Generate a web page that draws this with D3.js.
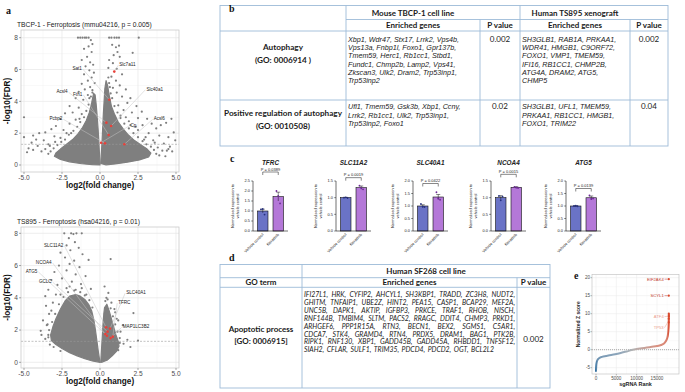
<!DOCTYPE html>
<html><head><meta charset="utf-8">
<script src="https://cdn.jsdelivr.net/npm/d3@7"></script>
<style>body{margin:0;background:#fff}svg{display:block}</style>
</head><body>
<svg id="fig" width="685" height="392"></svg>
<script>
// ================= DATA =================
// Panel a – volcano plots
const v1Title = "TBCP-1 - Ferroptosis (mmu04216, p = 0.005)";
const v2Title = "TS895 - Ferroptosis (hsa04216, p = 0.01)";
const xTicks = [-5, -2.5, 0, 2.5, 5];
const yTicks = [0, 2, 4, 6, 8];
// dense cloud outlines [log2FC, -log10FDR]
const v1LeftCloud = [[0,0.1],[-0.04,0.8],[-0.08,1.5],[-0.12,2.2],[-0.18,3.0],[-0.25,3.8],[-0.32,4.4],[-0.42,4.5],[-0.55,3.9],[-0.7,3.3],[-0.9,2.8],[-1.15,2.35],[-1.45,1.95],[-1.8,1.6],[-2.2,1.3],[-2.6,1.0],[-2.9,0.75],[-3.0,0.55],[-2.6,0.35],[-2.0,0.2],[-1.2,0.08],[-0.5,0.02],[0,0]];
const v1RightCloud = [[0.05,0.1],[0.1,0.9],[0.14,1.6],[0.18,2.4],[0.22,3.2],[0.27,4.0],[0.32,4.8],[0.4,5.3],[0.5,5.0],[0.6,4.4],[0.75,3.7],[0.95,3.2],[1.2,2.7],[1.5,2.3],[1.85,1.9],[2.25,1.55],[2.7,1.25],[3.1,1.0],[3.35,0.75],[3.2,0.5],[2.6,0.32],[1.8,0.18],[1.0,0.07],[0.4,0.01]];
const v1Points = [[-1.45,8],[-1.3,8],[-1.15,8],[-1.0,8],[-0.9,8],[-0.75,8],[-0.6,7.85],[-0.5,7.6],[-0.75,7.45],[-1.05,7.3],[-0.55,7.1],[-0.85,6.8],[-1.2,6.6],[-0.65,6.45],[-0.95,6.2],[-0.45,6.3],[-0.7,5.95],[-1.05,5.7],[-0.4,5.8],[-0.55,5.5],[-0.8,5.3],[-1.2,5.1],[-0.35,5.15],[-0.65,4.9],[-1.0,4.75],[-1.4,4.6],[-0.5,4.55],[-0.8,4.4],[-1.6,4.2],[-1.1,4.1],[-2.0,3.7],[-1.4,3.6],[-1.8,3.3],[-2.3,3.25],[-1.2,3.2],[-2.6,2.9],[-1.6,2.85],[-2.0,2.6],[-2.9,2.45],[-3.2,2.25],[-2.4,2.2],[-3.6,2.05],[-4.0,2.0],[-4.4,1.85],[-3.0,1.8],[-4.2,1.6],[-3.7,1.55],[-4.5,1.4],[-4.1,1.2],[-3.4,1.3],[-4.7,1.05],[-5.0,3.0],[-5.0,1.75],[-2.6,1.7],[-1.9,2.0],[-4.4,0.95],[-4.8,0.8],
 [0.6,8],[0.75,8],[0.95,8],[1.1,8],[1.25,8],[2.55,8],[0.8,7.55],[1.05,7.4],[1.25,7.5],[1.15,7.1],[0.9,6.9],[2.15,7.05],[0.6,6.6],[1.3,6.8],[0.85,6.4],[1.1,6.05],[0.55,6.1],[1.45,5.7],[0.75,5.55],[1.05,5.3],[0.6,5.15],[1.3,5.0],[0.85,4.85],[1.7,4.75],[1.1,4.55],[0.7,4.5],[1.45,4.3],[2.0,4.2],[1.8,3.9],[2.4,3.7],[1.2,3.75],[1.55,3.45],[2.1,3.3],[2.75,3.35],[1.35,3.1],[2.5,2.95],[3.1,2.9],[1.9,2.75],[3.4,2.6],[2.8,2.5],[4.0,2.5],[4.35,2.65],[4.7,2.9],[3.7,2.3],[2.5,2.2],[3.2,2.0],[4.85,2.05],[3.9,1.85],[4.5,1.75],[2.9,1.6],[3.5,1.55],[4.95,1.55],[4.2,1.35],[3.8,1.1],[4.6,1.15],[4.75,0.85],[4.4,0.9],
 [-0.5,4.7],[-0.6,4.3],[-0.75,3.8],[-0.9,3.4],[-1.05,3.0],[-1.3,2.7],[-1.5,2.4],[-1.75,2.15],[-2.05,1.9],[-2.3,1.6],[-2.55,1.45],[-2.8,1.25],[-3.05,1.05],[-3.25,0.85],[-3.4,0.7],[-3.6,1.0],[-3.85,0.85],[-3.3,1.2],[-2.95,1.45],[-2.2,2.0],[-1.35,2.9],[-0.7,4.2],
 [0.55,5.5],[0.65,4.9],[0.8,4.2],[0.95,3.7],[1.15,3.3],[1.35,2.95],[1.6,2.6],[1.9,2.3],[2.2,2.0],[2.5,1.75],[2.8,1.5],[3.05,1.3],[3.35,1.15],[3.55,0.95],[3.7,0.7],[3.9,0.6],[4.1,0.9],[3.6,1.4],[3.0,1.75],[2.35,2.4],[1.7,3.0],[4.3,0.55],[4.5,1.0],[2.0,2.5]];
const v1Hits = [[0.94,5.87],[0.61,4.1],[0.42,2.66],[0.73,2.45],[0.57,1.89],[0.33,1.36],[1.6,1.3],[0.07,1.4]];
const v1Labels = ["Sat1","Slc7a11","Acsl4","Fth1","Slc40a1","Pcbp2","Cp","Acsl6"];
const v1LabelPos = [[-1.5,6.05],[1.8,6.3],[-2.5,4.6],[-1.47,4.45],[3.6,4.76],[-2.9,2.9],[2.2,2.5],[3.9,2.9]];
const v1LabelHit = [1,0,2,4,3,5,7,6];

const v2LeftCloud = [[0,0],[-0.1,0.6],[-0.2,1.3],[-0.3,2.0],[-0.4,2.6],[-0.55,3.2],[-0.75,3.6],[-1.0,3.9],[-1.3,4.1],[-1.6,4.2],[-2.0,4.1],[-2.3,3.8],[-2.6,3.3],[-2.9,2.7],[-3.1,2.2],[-3.25,1.7],[-3.2,1.35],[-2.9,1.1],[-2.5,0.85],[-2.0,0.6],[-1.5,0.4],[-1.0,0.22],[-0.5,0.08],[0,0]];
const v2RightCloud = [[0.05,0],[0.1,0.8],[0.15,1.6],[0.2,2.4],[0.25,3.0],[0.3,3.4],[0.45,3.6],[0.6,3.2],[0.75,2.7],[0.9,2.2],[1.05,1.7],[1.2,1.3],[1.25,1.0],[1.1,0.7],[0.8,0.4],[0.5,0.15],[0.2,0.03]];
const v2Points = [[-1.9,8],[-1.75,7.95],[-1.55,8],[-1.2,8],[-2.35,8],[-2.05,7.7],[-1.65,7.45],[-2.2,7.25],[-1.4,7.1],[-1.95,6.95],[-2.6,6.8],[-1.15,6.7],[-2.3,6.5],[-1.7,6.3],[-0.75,6.35],[-2.0,6.1],[-2.7,6.0],[-1.35,5.9],[-3.0,5.6],[-2.2,5.7],[-1.6,5.45],[-0.95,5.35],[-2.5,5.2],[-3.2,5.1],[-1.85,5.0],[-2.8,4.8],[-1.25,4.85],[-2.2,4.6],[-3.4,4.5],[-0.6,4.55],[-1.6,4.5],[-3.6,4.1],[-2.9,4.2],[-0.9,4.2],[-3.1,3.7],[-3.55,3.5],[-3.35,3.0],[-3.75,2.6],[-3.5,2.3],[-3.9,1.95],[-3.85,1.7],[-3.4,1.55],[-3.3,1.1],[-2.7,1.1],[-3.6,1.45],
 [0.7,6.4],[0.3,4.7],[0.55,4.3],[0.42,4.0],[0.75,3.7],[1.0,3.1],[2.2,3.05],[1.2,2.6],[1.5,2.3],[1.35,1.9],[1.8,1.4],[2.5,1.35],[1.55,1.15],[2.0,0.95],[1.3,1.5],
 [-0.5,3.4],[-0.7,3.85],[-1.0,4.15],[-1.3,4.35],[-1.7,4.45],[-2.1,4.35],[-2.4,4.05],[-2.7,3.6],[-2.95,3.0],[-3.15,2.5],[-3.35,2.0],[-3.4,1.7],[-3.05,0.95],[-2.6,0.7],[-1.2,4.6],[-2.0,4.7],[-2.6,4.2],[-3.2,3.2],[-3.45,2.35],
 [0.35,3.8],[0.5,3.9],[0.7,3.35],[0.85,2.85],[1.0,2.35],[1.15,1.9],[1.3,1.2],[1.2,0.75],[0.95,3.3],[1.1,2.7]];
const v2Hits = [[0.4,2.17],[0.46,1.65],[0.66,2.09],[0.84,1.59],[0.5,1.9],[0.35,1.75],[0.7,1.5]];
const v2Labels = ["SLC11A2","NCOA4","ATG5","GCLC","SLC40A1","TFRC","MAP1LC3B2"];
const v2LabelPos = [[-3.05,7.27],[-3.7,6.19],[-4.5,5.63],[-3.6,5.0],[2.37,4.32],[1.6,3.7],[2.37,2.2]];
const v2LabelHit = [0,5,1,4,2,3,6];

// Panel b – enrichment table
const bGroups = ["Mouse TBCP-1 cell line", "Human TS895 xenograft"];
const bColHeads = ["Enriched genes", "P value", "Enriched genes", "P value"];
const bTerms = [["Autophagy", "(GO: 0006914 )"], ["Positive regulation of autophagy", "(GO: 0010508)"]];
const bMouseGenes = [
  ["Xbp1, Wdr47, Stx17, Lrrk2, Vps4b,", "Vps13a, Fnbp1l, Foxo1, Gpr137b,", "Tmem59, Herc1, Rb1cc1, Stbd1,", "Fundc1, Chmp2b, Lamp2, Vps41,", "Zkscan3, Ulk2, Dram2, Trp53inp1,", "Trp53inp2"],
  ["Ufl1, Tmem59, Gsk3b, Xbp1, Ccny,", "Lrrk2, Rb1cc1, Ulk2, Trp53inp1,", "Trp53inp2, Foxo1"]];
const bMouseP = ["0.002", "0.02"];
const bHumanGenes = [
  ["SH3GLB1, RAB1A, PRKAA1,", "WDR41, HMGB1, C9ORF72,", "FOXO1, VMP1, TMEM59,", "IFI16, RB1CC1, CHMP2B,", "ATG4A, DRAM2, ATG5,", "CHMP5"],
  ["SH3GLB1, UFL1, TMEM59,", "PRKAA1, RB1CC1, HMGB1,", "FOXO1, TRIM22"]];
const bHumanP = ["0.002", "0.04"];

// Panel c – qPCR bars
const cGenes = ["TFRC", "SLC11A2", "SLC40A1", "NCOA4", "ATG5"];
const cYMax = [2.5, 1.5, 2.0, 1.5, 2.0];
const cVehicleMean = [1.0, 1.0, 1.0, 1.0, 1.0];
const cVehicleSem = [0.09, 0.01, 0.05, 0.06, 0.01];
const cNeratinibMean = [1.72, 1.3, 1.36, 1.31, 1.33];
const cNeratinibSem = [0.22, 0.05, 0.1, 0.02, 0.07];
const cVehiclePts = [[1.08, 1.1, 0.82], [1.0, 1.01, 0.99], [1.08, 0.97, 0.96], [1.05, 0.92, 1.03], [1.0, 1.01, 0.99]];
const cNeratinibPts = [[2.0, 1.75, 1.38], [1.36, 1.29, 1.25], [1.55, 1.3, 1.25], [1.32, 1.3, 1.29], [1.42, 1.28, 1.3]];
const cBracket = [2.95, 1.6, 1.9, 1.7, 1.7];
const cPLabels = ["P = 0.0389", "P = 0.0019", "P = 0.0422", "P = 0.0015", "P = 0.0139"];
const cGroups = ["Vehicle control", "Neratinib"];
const cYTitle = ["Normalised expression to", "vehicle control"];

// Panel d – apoptosis table
const dGroup = "Human SF268 cell line";
const dHeads = ["GO term", "Enriched genes", "P value"];
const dTerm = ["Apoptotic process", "[GO: 0006915]"];
const dGenes = [
  "IFI27L1, HRK, CYFIP2, AHCYL1, SH3KBP1, TRADD, ZC3H8, NUDT2,",
  "GHITM, TNFAIP1, UBE2Z, HINT2, PEA15, CASP1, BCAP29, MEF2A,",
  "UNC5B, DAPK1, AKTIP, IGFBP3, PRKCE, TRAF1, RHOB, NISCH,",
  "RNF144B, TMBIM4, SLTM, PACS2, RRAGC, DDIT4, CHMP3, PRKD1,",
  "ARHGEF6, PPP1R15A, RTN3, BECN1, BEX2, SGMS1, C5AR1,",
  "CDCA7, STK4, GRAMD4, RTN4, PRDX5, DRAM1, BAG1, PTK2B,",
  "RIPK1, RNF130, XBP1, GADD45B, GADD45A, RHBDD1, TNFSF12,",
  "SIAH2, CFLAR, SULF1, TRIM35, PDCD4, PDCD2, OGT, BCL2L2"];
const dP = "0.002";

// Panel e – sgRNA rank plot
const eRank = [0, 60, 200, 450, 900, 1500, 2500, 3750, 5000, 6250, 7500, 8750, 10000, 11250, 12500, 13750, 15000, 16000, 16700, 17200, 17500, 17700, 17800, 17870, 17900];
const eZ = [-5.9, -4.6, -3.4, -2.7, -2.25, -2.0, -1.75, -1.45, -1.2, -0.85, -0.5, -0.1, 0.2, 0.4, 0.6, 0.8, 1.0, 1.3, 1.7, 2.4, 3.2, 4.3, 5.6, 7.4, 9.8];
const eXTicks = [0, 5000, 10000, 15000];
const eYTicks = [-5, 0, 5, 10, 15, 20];
const eHitRank = [17900, 17900, 17900, 17895, 17890, 17880];
const eHitZ = [19.6, 15.0, 10.0, 9.3, 8.6, 7.6];
const eLabels = ["EIF2AK4", "SCYL1", "ATF4", "TP53"];
const eLabelZ = [19.6, 15.0, 9.2, 6.1];
const eLabelHit = [0, 1, 3, 5];

// ================= DRAWING =================
const svg = d3.select("#fig");
svg.append("rect").attr("width", 685).attr("height", 392).attr("fill", "#fff");
const SANS = "'Liberation Sans', Arial, sans-serif";
const TAB = "Lato, 'Open Sans', sans-serif";
const SERIF = "'Liberation Serif', 'DejaVu Serif', serif";

function panelLetter(t, x, y) {
  svg.append("text").attr("x", x).attr("y", y).text(t)
    .attr("font-family", SERIF).attr("font-weight", "bold").attr("font-size", 10).attr("fill", "#111");
}

function volcano(cfg) {
  const g = svg.append("g");
  const x = d3.scaleLinear().domain([-5, 5]).range([24, 176]);
  const y = d3.scaleLinear().domain([0, 8]).range([cfg.y0, cfg.y8]);
  const L = 21, R = 179, T = cfg.top, B = cfg.bottom;
  g.append("rect").attr("x", L).attr("y", T).attr("width", R - L).attr("height", B - T).attr("fill", "#fff");
  [-3.75, -1.25, 1.25, 3.75].forEach(v => g.append("line").attr("x1", x(v)).attr("x2", x(v)).attr("y1", T).attr("y2", B).attr("stroke", "#f3f3f3").attr("stroke-width", 0.5));
  [1, 3, 5, 7].forEach(v => g.append("line").attr("y1", y(v)).attr("y2", y(v)).attr("x1", L).attr("x2", R).attr("stroke", "#f3f3f3").attr("stroke-width", 0.5));
  xTicks.forEach(v => g.append("line").attr("x1", x(v)).attr("x2", x(v)).attr("y1", T).attr("y2", B).attr("stroke", "#e6e6e6").attr("stroke-width", 0.7));
  yTicks.forEach(v => g.append("line").attr("y1", y(v)).attr("y2", y(v)).attr("x1", L).attr("x2", R).attr("stroke", "#e6e6e6").attr("stroke-width", 0.7));
  const line = d3.line().x(d => x(d[0])).y(d => y(d[1]));
  [cfg.left, cfg.right].forEach(c => g.append("path").attr("d", line(c) + "Z").attr("fill", "#7f7f7f").attr("stroke", "#7f7f7f").attr("stroke-width", 1.2).attr("stroke-linejoin", "round"));
  g.selectAll(null).data(cfg.points).enter().append("circle")
    .attr("cx", d => x(d[0])).attr("cy", d => y(d[1])).attr("r", 1.1).attr("fill", "#7f7f7f");
  g.append("line").attr("x1", L).attr("x2", R).attr("y1", y(1.3)).attr("y2", y(1.3))
    .attr("stroke", "#9a9a9a").attr("stroke-width", 0.6).attr("stroke-dasharray", "2,1.5");
  cfg.labels.forEach((t, i) => {
    const p = cfg.labelPos[i], h = cfg.hits[cfg.labelHit[i]];
    const tx = g.append("text").attr("x", x(p[0])).attr("y", y(p[1]) + 1.5).attr("text-anchor", "middle")
      .attr("font-family", SANS).attr("font-size", 4.6).attr("fill", "#222").text(t);
    const w = tx.node().getComputedTextLength();
    const sx = x(h[0]) > x(p[0]) ? x(p[0]) + w / 2 + 1 : x(p[0]) - w / 2 - 1;
    g.insert("line", "text").attr("x1", sx).attr("y1", y(p[1]) + 0.5).attr("x2", x(h[0])).attr("y2", y(h[1]))
      .attr("stroke", "#c4c4c4").attr("stroke-width", 0.5);
  });
  g.selectAll(null).data(cfg.hits).enter().append("circle")
    .attr("cx", d => x(d[0])).attr("cy", d => y(d[1])).attr("r", 1.3).attr("fill", "#e8413a");
  g.append("rect").attr("x", L).attr("y", T).attr("width", R - L).attr("height", B - T).attr("fill", "none").attr("stroke", "#c4c4c4").attr("stroke-width", 0.7);
  xTicks.forEach(v => {
    g.append("line").attr("x1", x(v)).attr("x2", x(v)).attr("y1", B).attr("y2", B + 2).attr("stroke", "#555").attr("stroke-width", 0.5);
    g.append("text").attr("x", x(v)).attr("y", B + 7.5).attr("text-anchor", "middle").attr("font-family", SANS).attr("font-size", 6.6).attr("fill", "#4d4d4d").text(v.toFixed(1));
  });
  yTicks.forEach(v => {
    g.append("line").attr("x1", L - 2).attr("x2", L).attr("y1", y(v)).attr("y2", y(v)).attr("stroke", "#555").attr("stroke-width", 0.5);
    g.append("text").attr("x", L - 3).attr("y", y(v) + 2.3).attr("text-anchor", "end").attr("font-family", SANS).attr("font-size", 6.6).attr("fill", "#4d4d4d").text(v);
  });
  g.append("text").attr("x", 100).attr("y", B + 16).attr("text-anchor", "middle").attr("font-family", SANS).attr("font-weight", "bold").attr("font-size", 8.2).attr("fill", "#111").text("log2(fold change)");
  g.append("text").attr("transform", `translate(10,${(T + B) / 2}) rotate(-90)`).attr("text-anchor", "middle").attr("font-family", SANS).attr("font-weight", "bold").attr("font-size", 8.2).attr("fill", "#111").text("-log10(FDR)");
  g.append("text").attr("x", 17).attr("y", T - 3).attr("font-family", SANS).attr("font-size", 6.7).attr("fill", "#222").text(cfg.title);
}

panelLetter("a", 6, 14);
volcano({ title: v1Title, top: 30, bottom: 172, y0: 165, y8: 37.7, left: v1LeftCloud, right: v1RightCloud, points: v1Points, hits: v1Hits, labels: v1Labels, labelPos: v1LabelPos, labelHit: v1LabelHit });
volcano({ title: v2Title, top: 227, bottom: 368, y0: 362.3, y8: 233.3, left: v2LeftCloud, right: v2RightCloud, points: v2Points, hits: v2Hits, labels: v2Labels, labelPos: v2LabelPos, labelHit: v2LabelHit });

// ---------- table helper ----------
const BORDER = "#9dbbd8";
function txt(g, s, x, y, o = {}) {
  return g.append("text").attr("x", x).attr("y", y).attr("text-anchor", o.anchor || "start")
    .attr("font-family", o.family || TAB).attr("font-size", o.size || 7.3).attr("font-weight", o.bold ? "bold" : "normal")
    .attr("font-style", o.italic ? "italic" : "normal").attr("fill", o.fill || "#1a1a1a").text(s);
}

// ---------- Panel b ----------
(function () {
  const g = svg.append("g");
  const xs = [220, 346, 480, 520, 630, 668];
  const ys = [5.5, 19.5, 31, 100, 146];
  g.append("rect").attr("x", xs[0]).attr("y", ys[0]).attr("width", xs[5] - xs[0]).attr("height", ys[4] - ys[0]).attr("fill", "#fff").attr("stroke", BORDER).attr("stroke-width", 0.9);
  g.append("line").attr("x1", xs[1]).attr("x2", xs[5]).attr("y1", ys[1]).attr("y2", ys[1]).attr("stroke", BORDER).attr("stroke-width", 0.9);
  [ys[2], ys[3]].forEach(v => g.append("line").attr("x1", xs[0]).attr("x2", xs[5]).attr("y1", v).attr("y2", v).attr("stroke", BORDER).attr("stroke-width", 0.9));
  g.append("line").attr("x1", xs[1]).attr("x2", xs[1]).attr("y1", ys[0]).attr("y2", ys[4]).attr("stroke", BORDER).attr("stroke-width", 0.9);
  g.append("line").attr("x1", xs[3]).attr("x2", xs[3]).attr("y1", ys[0]).attr("y2", ys[4]).attr("stroke", BORDER).attr("stroke-width", 0.9);
  [xs[2], xs[4]].forEach(v => g.append("line").attr("x1", v).attr("x2", v).attr("y1", ys[1]).attr("y2", ys[4]).attr("stroke", BORDER).attr("stroke-width", 0.9));
  txt(g, bGroups[0], (xs[1] + xs[2]) / 2, 15.5, { anchor: "middle", bold: true, size: 8 });
  txt(g, bGroups[1], (xs[3] + xs[4]) / 2, 15.5, { anchor: "middle", bold: true, size: 8 });
  bColHeads.forEach((h, i) => txt(g, h, (xs[i + 1] + xs[i + 2]) / 2, 28, { anchor: "middle", bold: true, size: 8 }));
  // gene font: size chosen so the widest mouse line spans ~125 px, capped so lines (8.2 px apart) do not collide
  const GF = SANS;
  const widest = d3.max(bMouseGenes.flat(), s => {
    const n = txt(g, s, 0, -50, { italic: true, size: 10, family: GF });
    const w = n.node().getComputedTextLength(); n.remove(); return w;
  });
  const gfs = Math.min(7.2, 125 / widest * 10);
  const rowTop = [39.3, 106.8];
  const termY = [[50, 63], [116, 129]];
  [0, 1].forEach(r => {
    txt(g, bTerms[r][0], (xs[0] + xs[1]) / 2, termY[r][0], { anchor: "middle", bold: true, size: 8.2 });
    txt(g, bTerms[r][1], (xs[0] + xs[1]) / 2, termY[r][1], { anchor: "middle", bold: true, size: 8.2 });
    bMouseGenes[r].forEach((l, k) => txt(g, l, xs[1] + 2, rowTop[r] + 2.6 + k * 8.2, { italic: true, size: gfs, family: GF }));
    bHumanGenes[r].forEach((l, k) => txt(g, l, xs[3] + 2, rowTop[r] + 2.6 + k * 8.2, { italic: true, size: gfs, family: GF }));
    txt(g, bMouseP[r], (xs[2] + xs[3]) / 2, rowTop[r] + 2.6, { anchor: "middle", size: 8 });
    txt(g, bHumanP[r], (xs[4] + xs[5]) / 2, rowTop[r] + 2.6, { anchor: "middle", size: 8 });
  });
  panelLetter("b", 229, 12);
})();

// ---------- Panel c ----------
(function () {
  panelLetter("c", 230, 162);
  const axX = [253, 336, 413, 491, 566];
  const y0 = 231, yTop = 181;
  const FILL = ["#6a73c6", "#b478d8"], DOT = ["#26307e", "#6d2a96"];
  cGenes.forEach((gene, i) => {
    const g = svg.append("g");
    const x0 = axX[i];
    const y = d3.scaleLinear().domain([0, cYMax[i]]).range([y0, yTop]);
    const bx = [x0 + 4.5, x0 + 20], bw = 10.5;
    const means = [cVehicleMean[i], cNeratinibMean[i]], sems = [cVehicleSem[i], cNeratinibSem[i]], pts = [cVehiclePts[i], cNeratinibPts[i]];
    [0, 1].forEach(k => {
      g.append("rect").attr("x", bx[k]).attr("y", y(means[k])).attr("width", bw).attr("height", y0 - y(means[k]))
        .attr("fill", FILL[k]).attr("stroke", "#111").attr("stroke-width", 0.6);
      const cx = bx[k] + bw / 2;
      g.append("line").attr("x1", cx).attr("x2", cx).attr("y1", y(means[k] - sems[k])).attr("y2", y(means[k] + sems[k])).attr("stroke", "#111").attr("stroke-width", 0.5);
      g.append("line").attr("x1", cx - 2).attr("x2", cx + 2).attr("y1", y(means[k] + sems[k])).attr("y2", y(means[k] + sems[k])).attr("stroke", "#111").attr("stroke-width", 0.5);
      pts[k].forEach((v, j) => g.append("circle").attr("cx", cx + (j - 1) * 1.8).attr("cy", y(v)).attr("r", 0.9).attr("fill", DOT[k]));
      g.append("text").attr("transform", `translate(${cx + 1},${y0 + 4}) rotate(-45)`).attr("text-anchor", "end")
        .attr("font-family", SANS).attr("font-size", 3.9).attr("fill", "#222").text(cGroups[k]);
    });
    g.append("line").attr("x1", x0).attr("x2", x0).attr("y1", yTop).attr("y2", y0).attr("stroke", "#111").attr("stroke-width", 0.6);
    g.append("line").attr("x1", x0).attr("x2", x0 + 35).attr("y1", y0).attr("y2", y0).attr("stroke", "#111").attr("stroke-width", 0.6);
    d3.range(0, cYMax[i] + 0.001, 0.5).forEach(v => {
      g.append("line").attr("x1", x0 - 1.8).attr("x2", x0).attr("y1", y(v)).attr("y2", y(v)).attr("stroke", "#111").attr("stroke-width", 0.5);
      g.append("text").attr("x", x0 - 3).attr("y", y(v) + 1.4).attr("text-anchor", "end").attr("font-family", SANS).attr("font-size", 3.9).attr("fill", "#222").text(v.toFixed(1));
    });
    g.append("text").attr("transform", `translate(${x0 - 19},${(y0 + yTop) / 2}) rotate(-90)`).attr("text-anchor", "middle").attr("font-family", SANS).attr("font-size", 3.9).attr("fill", "#222").text(cYTitle[0]);
    g.append("text").attr("transform", `translate(${x0 - 14.5},${(y0 + yTop) / 2}) rotate(-90)`).attr("text-anchor", "middle").attr("font-family", SANS).attr("font-size", 3.9).attr("fill", "#222").text(cYTitle[1]);
    const by = y(cBracket[i]);
    const c1 = bx[0] + bw / 2, c2 = bx[1] + bw / 2;
    g.append("path").attr("d", `M${c1},${by + 3}V${by}H${c2}V${by + 3}`).attr("fill", "none").attr("stroke", "#111").attr("stroke-width", 0.5);
    g.append("text").attr("x", (c1 + c2) / 2).attr("y", by - 1.5).attr("text-anchor", "middle").attr("font-family", SANS).attr("font-size", 4).attr("fill", "#222").text(cPLabels[i]);
    g.append("text").attr("x", x0 + 17.5).attr("y", 164.5).attr("text-anchor", "middle").attr("font-family", SANS).attr("font-weight", "bold").attr("font-style", "italic").attr("font-size", 6.4).attr("fill", "#222").text(gene);
  });
})();

// ---------- Panel d ----------
(function () {
  const g = svg.append("g");
  const xs = [220, 302, 517, 550];
  const ys = [264.5, 277.7, 287.3, 388];
  g.append("rect").attr("x", xs[0]).attr("y", ys[0]).attr("width", xs[3] - xs[0]).attr("height", ys[3] - ys[0]).attr("fill", "#fff").attr("stroke", BORDER).attr("stroke-width", 0.9);
  [ys[1], ys[2]].forEach(v => g.append("line").attr("x1", xs[0]).attr("x2", xs[3]).attr("y1", v).attr("y2", v).attr("stroke", BORDER).attr("stroke-width", 0.9));
  g.append("line").attr("x1", xs[1]).attr("x2", xs[1]).attr("y1", ys[0]).attr("y2", ys[3]).attr("stroke", BORDER).attr("stroke-width", 0.9);
  g.append("line").attr("x1", xs[2]).attr("x2", xs[2]).attr("y1", ys[1]).attr("y2", ys[3]).attr("stroke", BORDER).attr("stroke-width", 0.9);
  txt(g, dGroup, (xs[1] + xs[3]) / 2, 274, { anchor: "middle", bold: true, size: 8 });
  txt(g, dHeads[0], (xs[0] + xs[1]) / 2, 285.3, { anchor: "middle", bold: true, size: 8 });
  txt(g, dHeads[1], (xs[1] + xs[2]) / 2, 285.3, { anchor: "middle", bold: true, size: 8 });
  txt(g, dHeads[2], (xs[2] + xs[3]) / 2, 285.3, { anchor: "middle", bold: true, size: 8 });
  txt(g, dTerm[0], (xs[0] + xs[1]) / 2, 332, { anchor: "middle", bold: true, size: 8 });
  txt(g, dTerm[1], (xs[0] + xs[1]) / 2, 343.5, { anchor: "middle", bold: true, size: 8 });
  txt(g, dP, (xs[2] + xs[3]) / 2, 341.5, { anchor: "middle", size: 8 });
  const left = xs[1] + 2, right = xs[2] - 2, minGap = 2.6;
  const probe = dGenes.map(ln => ln.split(" ").map(w => {
    const n = txt(g, w, 0, -50, { italic: true, size: 10 });
    const wd = n.node().getComputedTextLength(); n.remove(); return wd / 10;
  }));
  const fs = Math.min(6.9, d3.min(probe.slice(0, -1), ws => (right - left - minGap * (ws.length - 1)) / d3.sum(ws)));
  dGenes.forEach((ln, k) => {
    const yy = 297 + k * 7.9;
    const words = ln.split(" ");
    const widths = probe[k].map(w => w * fs);
    const total = d3.sum(widths);
    const last = k === dGenes.length - 1;
    const gap = last ? minGap : (right - left - total) / (words.length - 1);
    let cx = left;
    words.forEach((w, j) => { txt(g, w, cx, yy, { italic: true, size: fs }); cx += widths[j] + gap; });
  });
  panelLetter("d", 229, 261);
})();

// ---------- Panel e ----------
(function () {
  panelLetter("e", 574, 279);
  const g = svg.append("g");
  const L = 592, R = 679, T = 274.5, B = 374;
  const x = d3.scaleLinear().domain([0, 15000]).range([596, 657]);
  const y = d3.scaleLinear().domain([-5, 20]).range([367.7, 277.7]);
  g.append("rect").attr("x", L).attr("y", T).attr("width", R - L).attr("height", B - T).attr("fill", "#fff");
  [2500, 7500, 12500, 17500].forEach(v => g.append("line").attr("x1", x(v)).attr("x2", x(v)).attr("y1", T).attr("y2", B).attr("stroke", "#f4f4f4").attr("stroke-width", 0.4));
  [-2.5, 2.5, 7.5, 12.5, 17.5].forEach(v => g.append("line").attr("y1", y(v)).attr("y2", y(v)).attr("x1", L).attr("x2", R).attr("stroke", "#f4f4f4").attr("stroke-width", 0.4));
  eXTicks.forEach(v => g.append("line").attr("x1", x(v)).attr("x2", x(v)).attr("y1", T).attr("y2", B).attr("stroke", "#e8e8e8").attr("stroke-width", 0.5));
  eYTicks.forEach(v => g.append("line").attr("y1", y(v)).attr("y2", y(v)).attr("x1", L).attr("x2", R).attr("stroke", "#e8e8e8").attr("stroke-width", 0.5));
  g.append("line").attr("x1", L).attr("x2", R).attr("y1", y(0)).attr("y2", y(0)).attr("stroke", "#777").attr("stroke-width", 0.6).attr("stroke-dasharray", "1,1");
  const col = d3.scaleLinear().domain([-6, -1, 0, 1, 8]).range(["#2f6fa0", "#8ea6bb", "#b3b3b3", "#d99080", "#d9472b"]);
  const grad = svg.append("defs").append("linearGradient").attr("id", "eg").attr("gradientUnits", "userSpaceOnUse")
    .attr("x1", x(0)).attr("x2", x(eRank[eRank.length - 1])).attr("y1", 0).attr("y2", 0);
  eRank.forEach((r, i) => grad.append("stop").attr("offset", r / eRank[eRank.length - 1]).attr("stop-color", col(eZ[i])));
  const pts = eRank.map((r, i) => [r, eZ[i]]);
  g.append("path").attr("d", d3.line().x(d => x(d[0])).y(d => y(d[1])).curve(d3.curveMonotoneX)(pts))
    .attr("fill", "none").attr("stroke", "url(#eg)").attr("stroke-width", 2).attr("stroke-linecap", "round");
  eHitRank.forEach((r, i) => g.append("circle").attr("cx", x(r)).attr("cy", y(eHitZ[i])).attr("r", 1.1).attr("fill", "#d9472b"));
  eLabels.forEach((t, i) => {
    const faded = i >= 2;
    const h = eLabelHit[i];
    const ly = y(eLabelZ[i]);
    const lx = x(eHitRank[h]) - 5;
    g.append("text").attr("x", lx).attr("y", ly + 1.4).attr("text-anchor", "end").attr("font-family", SANS).attr("font-size", 4.2)
      .attr("fill", faded ? "#eba08e" : "#c23b2a").text(t);
    g.append("line").attr("x1", lx + 0.8).attr("y1", ly).attr("x2", x(eHitRank[h]) - 1).attr("y2", y(eHitZ[h])).attr("stroke", faded ? "#eba08e" : "#c23b2a").attr("stroke-width", 0.5);
  });
  g.append("rect").attr("x", L).attr("y", T).attr("width", R - L).attr("height", B - T).attr("fill", "none").attr("stroke", "#bdbdbd").attr("stroke-width", 0.6);
  eXTicks.forEach(v => {
    g.append("line").attr("x1", x(v)).attr("x2", x(v)).attr("y1", B).attr("y2", B + 1.5).attr("stroke", "#555").attr("stroke-width", 0.4);
    g.append("text").attr("x", x(v)).attr("y", B + 6.3).attr("text-anchor", "middle").attr("font-family", SANS).attr("font-size", 4.6).attr("fill", "#4d4d4d").text(v);
  });
  eYTicks.forEach(v => {
    g.append("line").attr("x1", L - 1.5).attr("x2", L).attr("y1", y(v)).attr("y2", y(v)).attr("stroke", "#555").attr("stroke-width", 0.4);
    g.append("text").attr("x", L - 2).attr("y", y(v) + 1.6).attr("text-anchor", "end").attr("font-family", SANS).attr("font-size", 4.6).attr("fill", "#4d4d4d").text(v);
  });
  g.append("text").attr("x", (L + R) / 2).attr("y", B + 12).attr("text-anchor", "middle").attr("font-family", SANS).attr("font-weight", "bold").attr("font-size", 5.4).attr("fill", "#222").text("sgRNA Rank");
  g.append("text").attr("transform", `translate(580,${(T + B) / 2}) rotate(-90)`).attr("text-anchor", "middle").attr("font-family", SANS).attr("font-weight", "bold").attr("font-size", 5).attr("fill", "#222").text("Normalized Z score");
})();
</script></body></html>
